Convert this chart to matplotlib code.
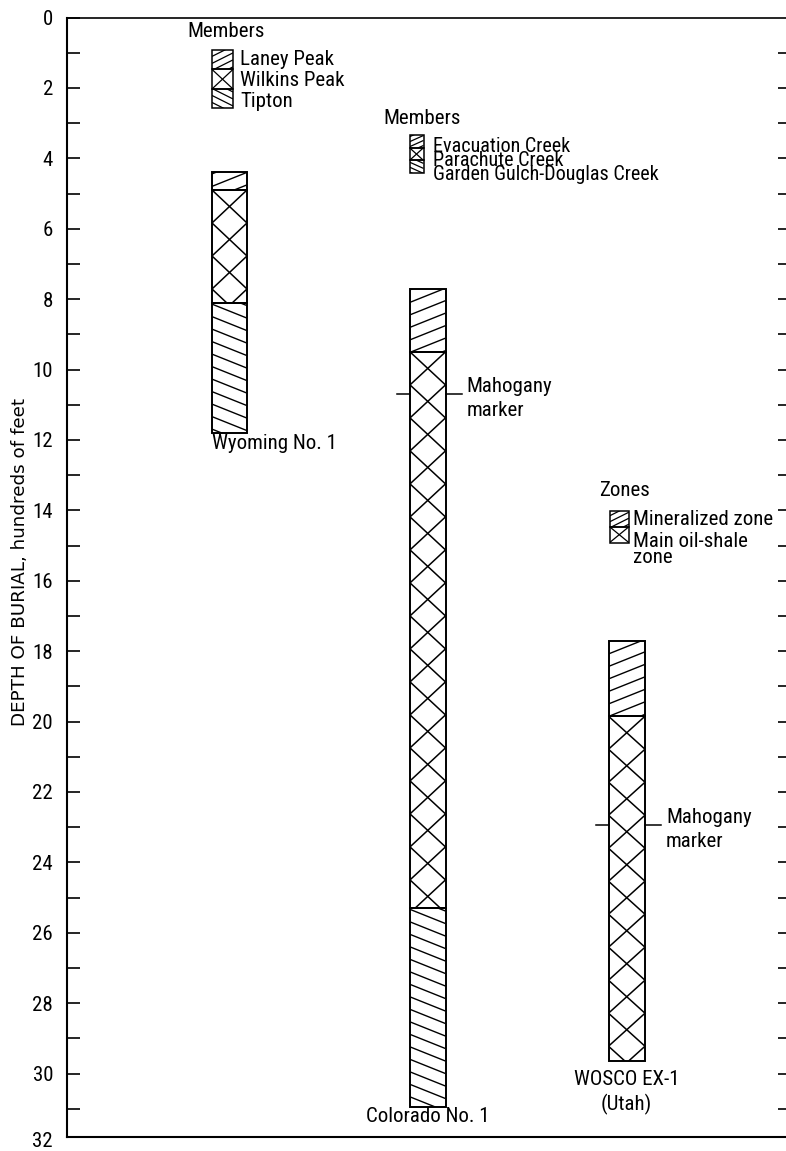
import matplotlib
matplotlib.use('Agg')
import matplotlib.pyplot as plt
from matplotlib import font_manager
from matplotlib.patches import Rectangle
from matplotlib.collections import LineCollection

# depths in hundreds of feet
wells = ['Wyoming No. 1', 'Colorado No. 1', 'WOSCO EX-1\n(Utah)']
wyoming_units = ['Laney Peak', 'Wilkins Peak', 'Tipton']
wyoming_bounds = [4.4, 4.9, 8.1, 11.8]
colorado_units = ['Evacuation Creek', 'Parachute Creek', 'Garden Gulch-Douglas Creek']
colorado_bounds = [7.7, 9.5, 25.3, 30.95]
utah_zones = ['Mineralized zone', 'Main oil-shale\nzone']
utah_bounds = [17.7, 19.85, 29.65]
mahogany = [None, 10.7, 22.95]

member_hatch = ['up', 'cross', 'down']
zone_hatch = ['up', 'cross']

# pick a condensed face if there is one
avail = {f.name for f in font_manager.fontManager.ttflist}
family = next(f for f in ['Liberation Sans Narrow', 'Roboto Condensed', 'DejaVu Sans'] if f in avail)
plt.rcParams['font.family'] = family
fs = 12.5 if family == 'DejaVu Sans' else 15

W, H = 786, 1151
fig = plt.figure(figsize=(W / 100, H / 100), dpi=100)
top_px, bot_px = 17.5, 1143.9
ax = fig.add_axes([67 / W, 1 - bot_px / H, (W - 67) / W, (bot_px - top_px) / H])
ax.set_xlim(67, 786)
ax.set_ylim(32, 0)

# pixels per data unit
k = abs(ax.transData.transform((0, 1))[1] - ax.transData.transform((0, 0))[1])


def hatched(x0, w, y0, y1, kind, step, slope=0.4, lw=1.0, edge_lw=1.4):
    h = (y1 - y0) * k
    rect = Rectangle((x0, y0), w, y1 - y0, fill=False, ec='k', lw=edge_lw, zorder=3)
    ax.add_patch(rect)
    x1 = x0 + w
    segs = []
    if kind == 'cross':
        n = int(h / step) + 2
        for i in range(-1, n + 1):
            c = i * step
            segs.append([(x0, y0 + c / k), (x1, y0 + (c + step) / k)])
            segs.append([(x0, y0 + (c + step) / k), (x1, y0 + c / k)])
    else:
        sgn = 1 if kind == 'down' else -1
        c = -slope * w + 3
        while c < h + slope * w:
            segs.append([(x0, y0 + c / k), (x1, y0 + (c + sgn * slope * w) / k)])
            c += step
    lc = LineCollection(segs, colors='k', linewidths=lw, zorder=2)
    ax.add_collection(lc, autolim=False)
    lc.set_clip_path(rect)


# columns
col_left = [212, 410, 608.5]
col_w = [35, 35.5, 36.5]
columns = [(wyoming_bounds, member_hatch), (colorado_bounds, member_hatch), (utah_bounds, zone_hatch)]
for x0, w, (bounds, kinds) in zip(col_left, col_w, columns):
    for i, kind in enumerate(kinds):
        if kind == 'cross':
            hatched(x0, w, bounds[i], bounds[i + 1], kind, step=33, lw=1.1)
        else:
            hatched(x0, w, bounds[i], bounds[i + 1], kind, step=12.5, slope=0.4)

# Mahogany marker
for x0, w, m in zip(col_left, col_w, mahogany):
    if m is None:
        continue
    ax.plot([x0 - 13, x0], [m, m], color='k', lw=1.1)
    ax.plot([x0 + w, x0 + w + 16], [m, m], color='k', lw=1.1)
    ax.text(x0 + w + 21, m + 0.12, 'Mahogany\nmarker', fontsize=fs, ha='left', va='center',
            linespacing=1.3)

# well names
ax.text(col_left[0], 12.1, wells[0], fontsize=fs, ha='left', va='center')
ax.text(col_left[1] + col_w[1] / 2, 31.22, wells[1], fontsize=fs, ha='center', va='center')
ax.text(col_left[2] + col_w[2] / 2, 30.53, wells[2], fontsize=fs, ha='center', va='center',
        linespacing=1.3)


# legends: hatched boxes stacked, labels beside them
def key(title, tx, ty, bx, bw, btop, bh, kinds, step, slope):
    ax.text(tx, ty, title, fontsize=fs, ha='left', va='center')
    for i, kind in enumerate(kinds):
        y0 = btop + i * bh
        if kind == 'cross':
            hatched(bx, bw, y0, y0 + bh, kind, step=bh * k, lw=0.9, edge_lw=1.1)
        else:
            hatched(bx, bw, y0, y0 + bh, kind, step=step, slope=slope, lw=0.9, edge_lw=1.1)


key('Members', 187, 0.40, 212, 21, 0.92, 0.555, member_hatch, step=7, slope=0.5)
for i, lab in enumerate(wyoming_units):
    ax.text(240, 1.18 + i * 0.6, lab, fontsize=fs, ha='left', va='center')

key('Members', 383, 2.86, 409.5, 14, 3.34, 0.36, member_hatch, step=5, slope=0.45)
ax.text(433, 4.07, '\n'.join(colorado_units), fontsize=fs - 0.5, ha='left', va='center',
        linespacing=0.68)

key('Zones', 599, 13.44, 609.5, 19.5, 14.01, 0.455, zone_hatch, step=6, slope=0.5)
ax.text(633, 14.25, utah_zones[0], fontsize=fs, ha='left', va='center')
ax.text(633, 14.61, utah_zones[1], fontsize=fs, ha='left', va='top', linespacing=0.8)

# axes styling
ax.set_xticks([])
ax.set_yticks(range(0, 31, 2))
ax.set_yticks(range(1, 32, 2), minor=True)
ax.tick_params(axis='y', which='both', direction='in', length=9, width=1.2, pad=10,
               labelsize=fs)
# last label sits below the frame line, without a tick
ax.text(-14 / (W - 67), 31.92, '32', transform=ax.get_yaxis_transform(), fontsize=fs,
        ha='right', va='center')
ax.spines['right'].set_visible(False)
ax.spines['left'].set_bounds(0, 31.8)
ax.spines['bottom'].set_position(('data', 31.8))
for s in ['left', 'bottom']:
    ax.spines[s].set_linewidth(1.5)
ax.spines['top'].set_linewidth(1.2)

# axis title: the lettering is widely spaced, a wider face gives the right length
fig.text(20 / W, 1 - 562 / H, 'DEPTH OF BURIAL, hundreds of feet', fontsize=13.2,
         family='DejaVu Sans', rotation=90, ha='center', va='center')

ax_r = ax.twinx()
ax_r.set_ylim(32, 0)
ax_r.set_yticks(range(1, 32))
ax_r.tick_params(axis='y', direction='in', length=6, width=1.2, labelright=False)
for s in ax_r.spines.values():
    s.set_visible(False)

fig.savefig('out.png', dpi=100)
